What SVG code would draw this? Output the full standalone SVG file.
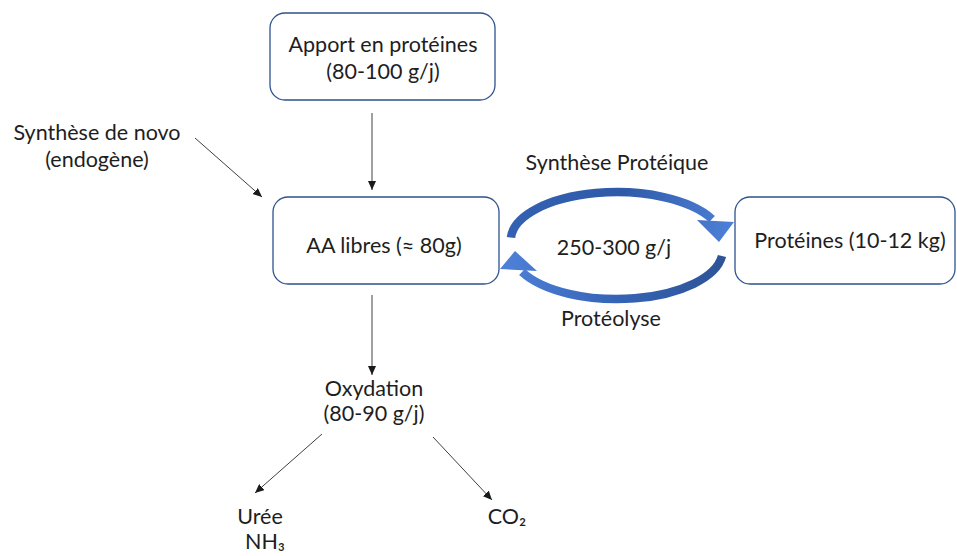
<svg xmlns="http://www.w3.org/2000/svg" width="957" height="556" viewBox="0 0 957 556">
<style>
  .box { fill: #ffffff; stroke: #2F528F; stroke-width: 1.3; }
  .t { font-family: Lato, "Open Sans", "Liberation Sans", sans-serif; font-size: 21.5px; fill: #1e1e1e; text-anchor: middle; }
  .ln { stroke: #404040; stroke-width: 1; fill: none; marker-end: url(#ah); }
</style>
<defs>
  <marker id="ah" markerWidth="10" markerHeight="8" refX="9" refY="4" orient="auto" markerUnits="userSpaceOnUse">
    <path d="M0,0 L9,4 L0,8 z" fill="#1a1a1a"/>
  </marker>
  <linearGradient id="gUp" gradientUnits="userSpaceOnUse" x1="505" y1="200" x2="732" y2="235">
    <stop offset="0" stop-color="#3461B3"/>
    <stop offset="0.5" stop-color="#2F5AA8"/>
    <stop offset="1" stop-color="#4E80D8"/>
  </linearGradient>
  <linearGradient id="gDn" gradientUnits="userSpaceOnUse" x1="730" y1="260" x2="505" y2="265">
    <stop offset="0" stop-color="#2E5395"/>
    <stop offset="0.5" stop-color="#3563B5"/>
    <stop offset="1" stop-color="#4E80D8"/>
  </linearGradient>
</defs>

<g id="apport">
  <rect class="box" x="270" y="13" width="225" height="87" rx="15"/>
  <text class="t" x="383" y="52">Apport en protéines</text>
  <text class="t" x="383" y="79">(80-100 g/j)</text>
</g>

<g id="synthese-novo">
  <text class="t" x="97" y="140">Synthèse de novo</text>
  <text class="t" x="97" y="167">(endogène)</text>
</g>

<g id="aa-libres">
  <rect class="box" x="273" y="197" width="226" height="87" rx="15"/>
  <text class="t" x="384" y="253">AA libres (≈ 80g)</text>
</g>

<g id="proteines">
  <rect class="box" x="735" y="197" width="220" height="87" rx="15"/>
  <text class="t" x="850" y="248">Protéines (10-12 kg)</text>
</g>

<g id="cycle">
  <text class="t" x="617" y="170">Synthèse Protéique</text>
  <text class="t" x="614" y="255">250-300 g/j</text>
  <text class="t" x="611" y="326">Protéolyse</text>
</g>

<g id="oxydation">
  <text class="t" x="374" y="396">Oxydation</text>
  <text class="t" x="374" y="421">(80-90 g/j)</text>
</g>

<g id="uree">
  <text class="t" x="260" y="524">Urée</text>
  <text class="t" x="265" y="549">NH₃</text>
</g>

<g id="co2">
  <text class="t" x="507" y="524">CO₂</text>
</g>

<g id="connectors">
  <line class="ln" x1="372" y1="113" x2="372" y2="190"/>
  <line class="ln" x1="195" y1="138" x2="262" y2="197"/>
  <line class="ln" x1="372" y1="295" x2="372" y2="375"/>
  <line class="ln" x1="322" y1="434" x2="255" y2="493"/>
  <line class="ln" x1="433" y1="437" x2="492" y2="500"/>
  <path d="M511,237.5 A106,48 0 0 1 712,219" fill="none" stroke="url(#gUp)" stroke-width="8.5"/>
  <polygon points="697,220 734,222 719,242" fill="url(#gUp)"/>
  <path d="M722,256 A106,49 0 0 1 522,272" fill="none" stroke="url(#gDn)" stroke-width="8.5"/>
  <polygon points="515,251 500,269 537,271" fill="url(#gDn)"/>
</g>
</svg>
